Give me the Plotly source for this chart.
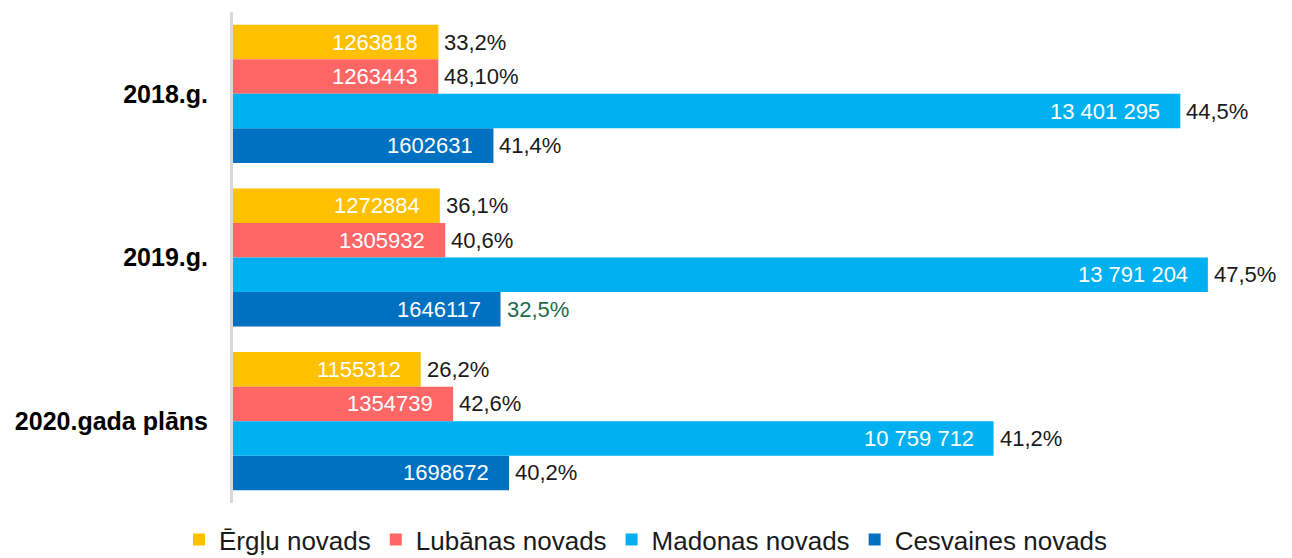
import plotly.graph_objects as go

# Budget execution by municipality, grouped by year
years = ["2018.g.", "2019.g.", "2020.gada plāns"]
series_names = ["Ērgļu novads", "Lubānas novads", "Madonas novads", "Cesvaines novads"]
colors = ["#FFC000", "#FF6666", "#00B0F0", "#0070C0"]

ergli = [1263818, 1272884, 1155312]
lubana = [1263443, 1305932, 1354739]
madona = [13401295, 13791204, 10759712]
cesvaine = [1602631, 1646117, 1698672]

ergli_pct = ["33,2%", "36,1%", "26,2%"]
lubana_pct = ["48,10%", "40,6%", "42,6%"]
madona_pct = ["44,5%", "47,5%", "41,2%"]
cesvaine_pct = ["41,4%", "32,5%", "40,2%"]

values = [ergli, lubana, madona, cesvaine]
percents = [ergli_pct, lubana_pct, madona_pct, cesvaine_pct]
# Madonas novads is far larger than the others, so it is drawn on its own value axis
own_axis = [False, False, True, False]
spaced_thousands = [False, False, True, False]
pct_colors = [["#1a1a1a"] * 3, ["#1a1a1a"] * 3, ["#1a1a1a"] * 3,
              ["#1a1a1a", "#226B4E", "#1a1a1a"]]

FONT = "Liberation Sans, Arial, sans-serif"
n = len(series_names)
bar_w = 0.211
first_off = -bar_w * n / 2

fig = go.Figure()
annotations = []
for i, name in enumerate(series_names):
    xa = "x2" if own_axis[i] else "x"
    off = first_off + i * bar_w
    fig.add_trace(go.Bar(
        y=years, x=values[i], name=name, orientation="h",
        marker=dict(color=colors[i], line=dict(width=0)),
        width=bar_w, offset=off, xaxis=xa, yaxis="y",
        hoverinfo="x+name",
    ))
    for j, v in enumerate(values[i]):
        ypos = j + off + bar_w / 2
        label = f"{v:,}".replace(",", " ") if spaced_thousands[i] else str(v)
        annotations.append(dict(
            x=v, y=ypos, xref=xa, yref="y", text=label, showarrow=False,
            xanchor="right", yanchor="middle", xshift=-18,
            font=dict(family=FONT, size=22, color="white"),
        ))
        annotations.append(dict(
            x=v, y=ypos, xref=xa, yref="y", text=percents[i][j], showarrow=False,
            xanchor="left", yanchor="middle", xshift=4,
            font=dict(family=FONT, size=22, color=pct_colors[i][j]),
        ))

fig.update_layout(
    width=1292, height=558,
    margin=dict(l=233, r=10, t=11.5, b=54.5),
    paper_bgcolor="white", plot_bgcolor="white",
    barmode="overlay",
    showlegend=True,
    legend=dict(
        orientation="h", xref="container", yref="container",
        x=0.5, xanchor="center", y=0.033, yanchor="middle",
        font=dict(family=FONT, size=26, color="#1a1a1a"),
        itemwidth=30, traceorder="normal",
    ),
    xaxis=dict(range=[0, 6455000], visible=False, fixedrange=True),
    xaxis2=dict(range=[0, 14840000], visible=False, overlaying="x", side="bottom"),
    yaxis=dict(
        type="category", categoryorder="array", categoryarray=years,
        range=[2.5, -0.5], showgrid=False, zeroline=False,
        showline=True, linecolor="#D9D9D9", linewidth=3,
        ticks="", ticklabelstandoff=17,
        tickfont=dict(family=FONT, size=25, color="#000000", weight="bold"),
    ),
    annotations=annotations,
)

fig.write_html("out.html")
